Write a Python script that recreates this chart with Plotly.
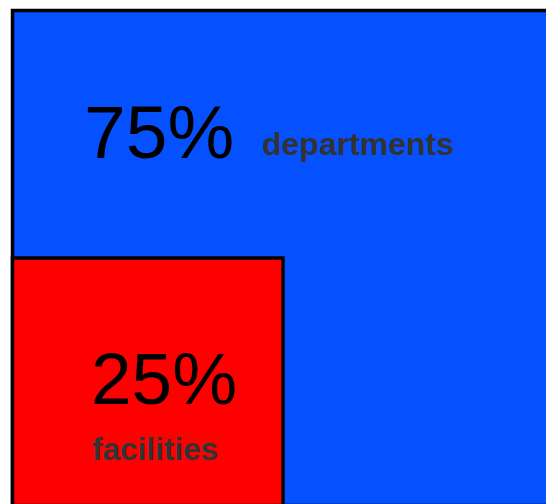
import math
import plotly.graph_objects as go

# ---- data ----
categories = ["departments", "facilities"]
shares = [75, 25]
colors = ["#0550ff", "#ff0000"]

# ---- layout constants (pixel-like data units) ----
W, H = 546, 504
box_x0, box_y0 = 12.5, 10.5
box_w, box_h = 541, 495

fig = go.Figure()
fig.add_trace(go.Scatter(x=[0, W], y=[0, H], mode="markers",
                         marker=dict(opacity=0), hoverinfo="skip", showlegend=False))

total = sum(shares)
big_scale = math.sqrt(total / total)
small_scale = math.sqrt(shares[1] / total)

bx1 = box_x0 + box_w * big_scale
by1 = box_y0 + box_h * big_scale
fig.add_shape(type="rect", xref="x", yref="y", x0=box_x0, y0=box_y0, x1=bx1, y1=by1,
              fillcolor=colors[0], line=dict(color="black", width=3.5))

sx1 = box_x0 + box_w * small_scale
sy0 = by1 - box_h * small_scale
fig.add_shape(type="rect", xref="x", yref="y", x0=box_x0, y0=sy0, x1=sx1, y1=by1,
              fillcolor=colors[1], line=dict(color="black", width=3.5))

font_fam = "Arial, Liberation Sans, sans-serif"
fig.add_annotation(x=box_x0 + 69, y=box_y0 + 121, text=f"{shares[0]}%", showarrow=False,
                   xanchor="left", yanchor="middle",
                   font=dict(family=font_fam, size=75, color="black"))
fig.add_annotation(x=box_x0 + 247, y=box_y0 + 133, text=categories[0], showarrow=False,
                   xanchor="left", yanchor="middle",
                   font=dict(family=font_fam, size=32, color="#333333", weight="bold"))
fig.add_annotation(x=box_x0 + 76, y=sy0 + 120, text=f"{shares[1]}%", showarrow=False,
                   xanchor="left", yanchor="middle",
                   font=dict(family=font_fam, size=73, color="black"))
fig.add_annotation(x=box_x0 + 77, y=sy0 + 191, text=categories[1], showarrow=False,
                   xanchor="left", yanchor="middle",
                   font=dict(family=font_fam, size=31.5, color="#333333", weight="bold"))

fig.update_xaxes(range=[0, W], visible=False, fixedrange=True)
fig.update_yaxes(range=[H, 0], visible=False, fixedrange=True)
fig.update_layout(width=W, height=H, margin=dict(l=0, r=0, t=0, b=0),
                  paper_bgcolor="white", plot_bgcolor="white", showlegend=False)

fig.write_html("out.html", config={"displayModeBar": False})
